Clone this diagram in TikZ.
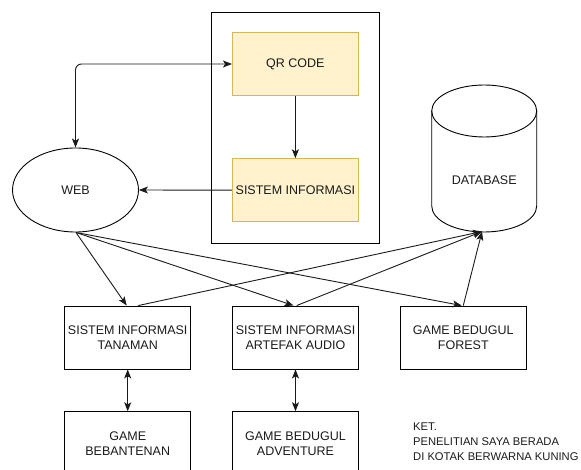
\documentclass[tikz,border=0pt]{standalone}
\usepackage{fontspec}
\setmainfont{Liberation Sans}
\usetikzlibrary{arrows.meta,shapes.geometric,calc}
\definecolor{hlfill}{HTML}{FFF2CC}
\definecolor{hlline}{HTML}{D6B656}
\definecolor{ink}{HTML}{1A1A1A}
\tikzset{
  boxtxt/.style={font=\fontsize{12.5}{15}\selectfont, text=ink, align=center},
  plainbox/.style={draw=black, line width=0.9pt, minimum width=126pt, minimum height=63pt,
    inner sep=0pt, boxtxt},
  hlbox/.style={plainbox, draw=hlline, fill=hlfill},
  link/.style={draw=ink, line width=0.9pt},
  tip/.style={-{Stealth[length=9pt,width=7pt,inset=2.2pt]}},
  bitip/.style={{Stealth[length=9pt,width=7pt,inset=2.2pt]}-{Stealth[length=9pt,width=7pt,inset=2.2pt]}},
}
\begin{document}
\begin{tikzpicture}[x=1pt,y=-1pt]
\useasboundingbox (0,0) rectangle (581,470);
\begin{scope}
\clip (0,0) rectangle (581,470);

% frame around the highlighted part
\draw[line width=0.9pt] (211.5,12) rectangle (379,243);

% highlighted boxes
\node[hlbox] (qr) at (295.4,64) {QR CODE};
\node[hlbox] (si) at (295.4,190.2) {SISTEM INFORMASI};

% web client
\node[draw=black, line width=0.9pt, ellipse, minimum width=126pt, minimum height=84pt,
  inner sep=0pt, boxtxt] (web) at (75.5,190) {WEB};

% database cylinder
\draw[line width=0.9pt] (431.7,111) -- (431.7,206)
  arc[start angle=180, end angle=0, x radius=52.5, y radius=26] -- (536.7,111);
\draw[line width=0.9pt] (484.2,111) ellipse[x radius=52.5, y radius=26];
\node[boxtxt, inner sep=0pt] (db) at (484.2,180) {DATABASE};
\coordinate (dbin) at (482,231.5);

% application boxes
\node[plainbox] (tan) at (127.7,337.5) {SISTEM INFORMASI\\TANAMAN};
\node[plainbox] (art) at (295.5,337.5) {SISTEM INFORMASI\\ARTEFAK AUDIO};
\node[plainbox] (forest) at (463.3,337.5) {GAME BEDUGUL\\FOREST};
\node[plainbox] (beb) at (127.7,443.2) {GAME\\BEBANTENAN};
\node[plainbox] (adv) at (295.5,443.2) {GAME BEDUGUL\\ADVENTURE};
\end{scope}

% note
\node[anchor=west, align=left, inner sep=0pt, text=ink,
  font=\fontsize{11.2}{15}\selectfont] (note) at (413,441.7)
  {KET.\\PENELITIAN SAYA BERADA\\DI KOTAK BERWARNA KUNING};

% connectors
\draw[link, bitip, rounded corners=6pt] (web.north) |- (qr.west);
\draw[link, tip] (qr.south) -- (si.north);
\draw[link, tip] (si.west) -- (web.east);

\coordinate (webout) at (76,232.5);
\draw[link, tip] (webout) -- ($(tan.north)+(-1,0)$);
\draw[link, tip] (webout) -- ($(art.north)+(-2,0)$);
\draw[link, tip] (webout) -- ($(forest.north)+(-1.6,0)$);

\draw[link, tip] ($(tan.north)+(10.6,0)$) -- (dbin);
\draw[link, tip] ($(art.north)+(1.2,0)$) -- (dbin);
\draw[link, tip] (forest.north) -- (dbin);

\draw[link, bitip] (tan.south) -- (beb.north);
\draw[link, bitip] (art.south) -- (adv.north);
\end{tikzpicture}
\end{document}
